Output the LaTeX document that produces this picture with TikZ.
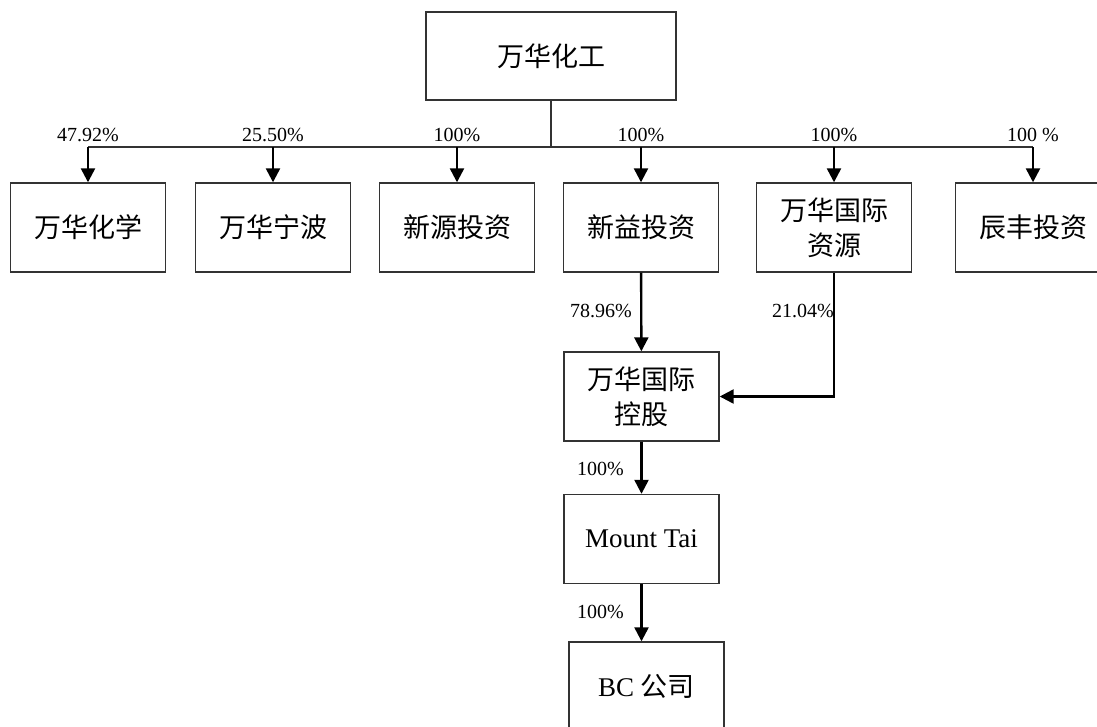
\documentclass[tikz,border=0pt]{standalone}
\usepackage{fontspec}
\setmainfont{Liberation Serif}
\newfontfamily\cjk{Noto Sans CJK SC}
\usetikzlibrary{arrows.meta}

\begin{document}
\begin{tikzpicture}[x=1pt, y=-1pt,
  box/.style={draw=black!80, line width=1.4pt, minimum width=155pt, minimum height=89pt,
    align=center, font=\fontsize{27}{35}\selectfont\cjk},
  pct/.style={font=\fontsize{20}{20}\selectfont, inner sep=0pt, anchor=base},
  link/.style={line width=2.4pt, -{Triangle[length=14pt,width=14pt]}}]
  \useasboundingbox (0,0) rectangle (1097,726);
  \node[box, minimum width=250pt, minimum height=88pt] (top) at (551, 56) {万华化工};
  \node[box] (s1) at (88, 227.5) {万华化学};
  \node[box] (s2) at (273, 227.5) {万华宁波};
  \node[box] (s3) at (457, 227.5) {新源投资};
  \node[box] (s4) at (641, 227.5) {新益投资};
  \node[box] (s5) at (834, 227.5) {万华国际\\资源};
  \node[box] (s6) at (1033, 227.5) {辰丰投资};
  \node[box] (hold) at (641.5, 396.5) {万华国际\\控股};
  \node[box, font=\fontsize{27}{35}\selectfont] (mt) at (641.5, 539) {Mount Tai};
  \node[box, font=\fontsize{27}{35}\selectfont] (bc) at (646.5, 686.5) {BC {\cjk 公司}};
  \coordinate (j) at (551, 147);
  \draw[line width=1.4pt, black!80] (top) -- (j);
  \draw[line width=1.4pt, black!80] (s1.north |- j) -- (s6.north |- j);
  \foreach \s/\p in {s1/47.92\%, s2/25.50\%, s3/100\%, s4/100\%, s5/100\%, s6/100 \%} {
    \draw[link] (\s.north |- j) -- (\s.north);
    \node[pct, yshift=6pt] at (\s.north |- j) {\p};
  }
  \draw[link] (s4) -- (hold);
  \draw[link] (s5.south) |- (hold.east);
  \draw[link] (hold) -- (mt);
  \draw[link] (mt.south) -- (mt.south |- bc.north);
  \node[pct, anchor=base east] (p1) at (632, 317) {78.96\%};
  \node[pct, anchor=base east] (p2) at (834, 317) {21.04\%};
  \node[pct, anchor=base east] (p3) at (624, 475) {100\%};
  \node[pct, anchor=base east] (p4) at (624, 618) {100\%};
\end{tikzpicture}
\end{document}
